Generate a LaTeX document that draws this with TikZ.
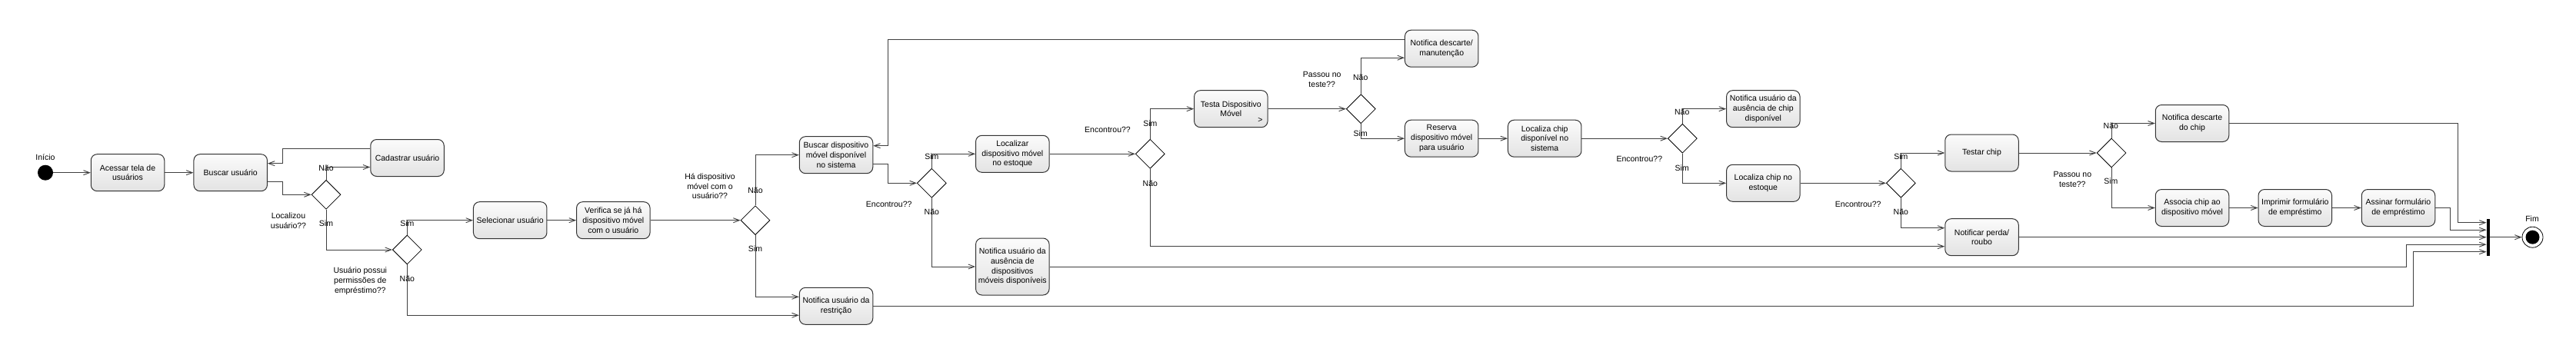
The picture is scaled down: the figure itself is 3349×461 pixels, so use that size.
\documentclass[tikz,border=0pt]{standalone}
\usepackage{fontspec}
\setmainfont{Liberation Sans}
\usetikzlibrary{shapes.geometric,arrows.meta,calc}
\begin{document}
\begin{tikzpicture}[x=1pt,y=1pt,
  act/.style={draw=black!80, line width=1pt, rounded corners=8pt, top color=gray!3, bottom color=gray!22,
    minimum width=95.5pt, minimum height=48pt, inner sep=1pt, align=center,
    font=\fontsize{10.5}{12.8}\selectfont},
  dec/.style={diamond, draw=black, line width=0.8pt, fill=white, minimum width=38pt,
    minimum height=38pt, inner sep=0pt, aspect=1},
  flow/.style={draw=black!75, line width=0.9pt, -{Straight Barb[length=8pt,width=6pt]}},
  lbl/.style={font=\fontsize{10.5}{12.8}\selectfont, inner sep=0pt, align=center},
]
\useasboundingbox (0,0) rectangle (3349,-461);

% start / end
\node[circle, fill=black, minimum size=20pt, inner sep=0pt] (start) at (59,-224.7) {};
\node[lbl] (lstart) at (59,-205) {Início};

% activities
\node[act] (n1) at (166,-224.7) {Acessar tela de\\usuários};
\node[act] (n2) at (299.7,-224.7) {Buscar usuário};
\node[act] (n3) at (529.5,-205.5) {Cadastrar usuário};
\node[act] (n4) at (663.2,-286.7) {Selecionar usuário};
\node[act] (n5) at (797.3,-286.7) {Verifica se já há\\dispositivo móvel\\com o usuário};
\node[act] (n6) at (1087,-201.7) {Buscar dispositivo\\móvel disponível\\no sistema};
\node[act] (n7) at (1087,-398.3) {Notifica usuário da\\restrição};
\node[act] (n8) at (1316.3,-200.3) {Localizar\\dispositivo móvel\\no estoque};
\node[act, minimum height=74pt] (n9) at (1316.3,-347) {Notifica usuário da\\ausência de\\dispositivos\\móveis disponíveis};
\node[act] (n10) at (1600.3,-141.7) {Testa Dispositivo\\Móvel};
\node[lbl] (tmark) at (1638.3,-156) {>};
\node[act] (n11) at (1874.2,-63.2) {Notifica descarte/\\manutenção};
\node[act] (n12) at (1874.2,-180.2) {Reserva\\dispositivo móvel\\para usuário};
\node[act] (n13) at (2008.2,-180.2) {Localiza chip\\disponível no\\sistema};
\node[act] (n14) at (2292.3,-141.7) {Notifica usuário da\\ausência de chip\\disponível};
\node[act] (n15) at (2292.3,-238.3) {Localiza chip no\\estoque};
\node[act] (n16) at (2576.5,-199) {Testar chip};
\node[act] (n17) at (2576.5,-308.7) {Notificar perda/\\roubo};
\node[act] (n18) at (2850,-160.5) {Notifica descarte\\do chip};
\node[act] (n19) at (2850,-270.5) {Associa chip ao\\dispositivo móvel};
\node[act] (n20) at (2983.8,-270.5) {Imprimir formulário\\de empréstimo};
\node[act] (n21) at (3118,-270.5) {Assinar formulário\\de empréstimo};

% decisions
\node[dec] (d1) at (424,-253.3) {};
\node[dec] (d2) at (529.3,-325) {};
\node[dec] (d3) at (982,-286.7) {};
\node[dec] (d4) at (1211.3,-238.3) {};
\node[dec] (d5) at (1495.3,-200.3) {};
\node[dec] (d6) at (1769.3,-141.7) {};
\node[dec] (d7) at (2187.3,-180.2) {};
\node[dec] (d8) at (2471.3,-238.3) {};
\node[dec] (d9) at (2745,-199) {};

% join bar and end
\node[fill=black, minimum width=4.5pt, minimum height=48.3pt, inner sep=0pt] (bar) at (3235,-308.7) {};
\node[circle, draw=black, line width=0.8pt, fill=white, minimum size=27pt, inner sep=0pt] (end) at (3292.5,-308.7) {};
\node[circle, fill=black, minimum size=18pt, inner sep=0pt] (endin) at (end.center) {};
\node[lbl] (lend) at (3292,-285) {Fim};

% connectors
\draw[flow] (start.east) -- (n1.west);
\draw[flow] (n1) -- (n2);
\draw[flow] ([yshift=-12pt]n2.east) -- ++(19,0) |- (d1.west);
\draw[flow] (d1.north) |- ([yshift=-12pt]n3.west);
\draw[flow] ([yshift=12pt]n3.west) -| ($([yshift=12pt]n2.east)+(19,0)$) -- ([yshift=12pt]n2.east);
\draw[flow] (d1.south) |- (d2.west);
\draw[flow] (d2.north) |- (n4.west);
\draw[flow] (d2.south) |- ([yshift=-12pt]n7.west);
\draw[flow] (n4) -- (n5);
\draw[flow] (n5) -- (d3);
\draw[flow] (d3.north) |- (n6.west);
\draw[flow] (d3.south) |- ([yshift=12pt]n7.west);
\draw[flow] ([yshift=-12pt]n6.east) -- ++(19.3,0) |- (d4.west);
\draw[flow] ([yshift=12pt]n11.west) -| ($([yshift=12pt]n6.east)+(19.3,0)$) -- ([yshift=12pt]n6.east);
\draw[flow] (d4.north) |- (n8.west);
\draw[flow] (d4.south) |- (n9.west);
\draw[flow] (n8) -- (d5);
\draw[flow] (d5.north) |- (n10.west);
\draw[flow] (d5.south) |- ([yshift=-12pt]n17.west);
\draw[flow] (n10) -- (d6);
\draw[flow] (d6.north) |- ([yshift=-12pt]n11.west);
\draw[flow] (d6.south) |- (n12.west);
\draw[flow] (n12) -- (n13);
\draw[flow] (n13) -- (d7);
\draw[flow] (d7.north) |- (n14.west);
\draw[flow] (d7.south) |- (n15.west);
\draw[flow] (n15) -- (d8);
\draw[flow] (d8.north) |- (n16.west);
\draw[flow] (d8.south) |- ([yshift=12pt]n17.west);
\draw[flow] (n16) -- (d9);
\draw[flow] (d9.north) |- (n18.west);
\draw[flow] (d9.south) |- (n19.west);
\draw[flow] (n19) -- (n20);
\draw[flow] (n20) -- (n21);
\draw[flow] (n18.east) -- ++(297,0) |- ([yshift=19pt]bar.west);
\draw[flow] (n21.east) -- ++(19,0) |- ([yshift=9.5pt]bar.west);
\draw[flow] (n17.east) -- (bar.west);
\draw[flow] (n9.east) -- ++(1763.7,0) |- ([yshift=-9.5pt]bar.west);
\draw[flow] (n7.east) -- ++(2002.6,0) |- ([yshift=-19pt]bar.west);
\draw[flow] (bar.east) -- (end.west);

% branch labels
\node[lbl] (l1n) at (424,-219) {Não};
\node[lbl] (l1s) at (424,-291) {Sim};
\node[lbl] (l2s) at (529.3,-291) {Sim};
\node[lbl] (l2n) at (529.3,-362.3) {Não};
\node[lbl] (l3n) at (982,-247.3) {Não};
\node[lbl] (l3s) at (982,-324) {Sim};
\node[lbl] (l4s) at (1211.3,-204) {Sim};
\node[lbl] (l4n) at (1211.3,-276) {Não};
\node[lbl] (l5s) at (1495.3,-160.3) {Sim};
\node[lbl] (l5n) at (1495.3,-238.3) {Não};
\node[lbl] (l6n) at (1768.7,-101) {Não};
\node[lbl] (l6s) at (1768.7,-173.7) {Sim};
\node[lbl] (l7n) at (2186.7,-145.3) {Não};
\node[lbl] (l7s) at (2186.7,-218.3) {Sim};
\node[lbl] (l8s) at (2471.3,-204) {Sim};
\node[lbl] (l8n) at (2471.3,-276) {Não};
\node[lbl] (l9n) at (2744.3,-164) {Não};
\node[lbl] (l9s) at (2744.3,-236) {Sim};

% condition labels
\node[lbl] (q1) at (375,-287.3) {Localizou\\usuário??};
\node[lbl] (q2) at (468.3,-365.7) {Usuário possui\\permissões de\\empréstimo??};
\node[lbl] (q3) at (923,-242.3) {Há dispositivo\\móvel com o\\usuário??};
\node[lbl] (q4) at (1155.7,-266) {Encontrou??};
\node[lbl] (q5) at (1440,-169) {Encontrou??};
\node[lbl] (q6) at (1718.7,-103.7) {Passou no\\teste??};
\node[lbl] (q7) at (2131.3,-207) {Encontrou??};
\node[lbl] (q8) at (2415.7,-266) {Encontrou??};
\node[lbl] (q9) at (2694.3,-233.3) {Passou no\\teste??};
\end{tikzpicture}
\end{document}
